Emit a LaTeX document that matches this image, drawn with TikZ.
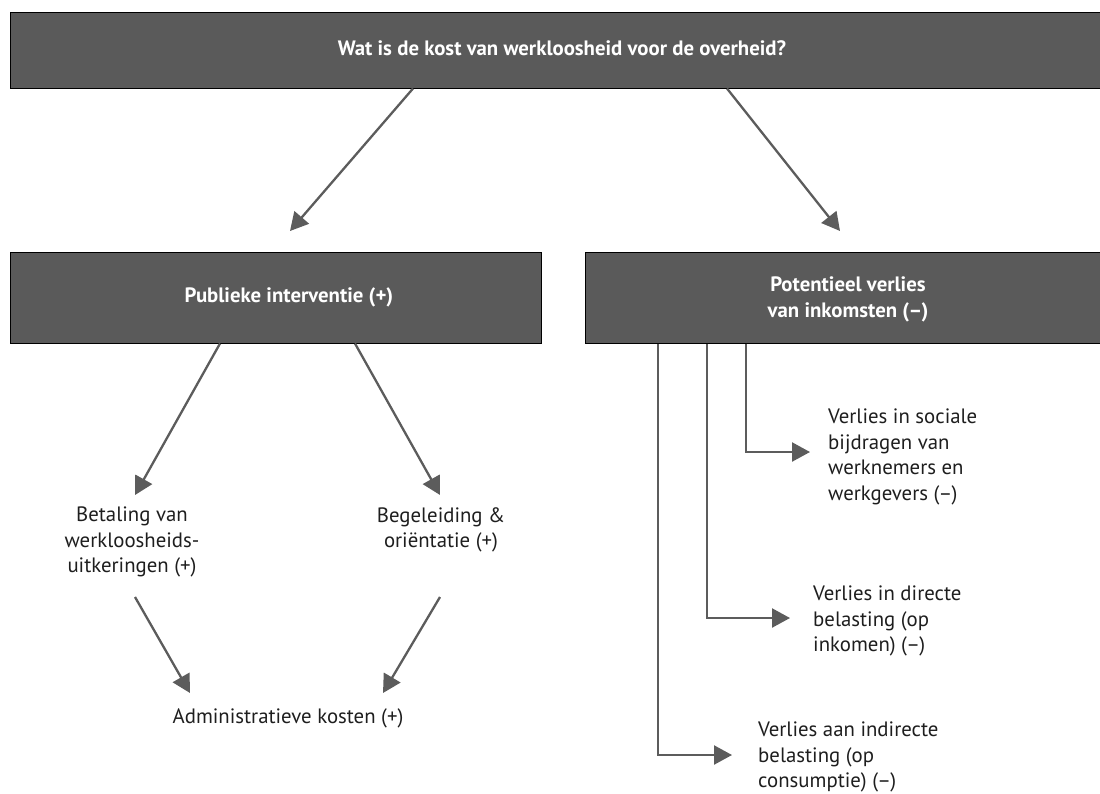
\documentclass[tikz,border=0pt]{standalone}
\usepackage{fontspec}
\setmainfont{PT Sans}
\usepackage{xcolor}
\usepackage{tikz}
\usetikzlibrary{arrows.meta,positioning,calc}
\definecolor{boxgray}{HTML}{5A5A5A}
\definecolor{arrgray}{HTML}{5C5C5C}
\definecolor{txtgray}{HTML}{1E1E1E}
\tikzset{
  hbox/.style={draw=black, line width=1pt, fill=boxgray, inner sep=0pt},
  htext/.style={text=white, font=\fontsize{20.8}{25.5}\selectfont\bfseries, align=center, inner sep=0pt},
  item/.style={text=txtgray, font=\fontsize{20.8}{25.5}\selectfont, align=center, inner sep=0pt},
  itemleft/.style={item, align=left, anchor=west},
  arrow/.style={-{Triangle[length=18pt, width=19pt]}, line width=2.3pt, draw=arrgray},
  elbow/.style={arrow, rounded corners=0pt}
}

\begin{document}
\begin{tikzpicture}[x=1pt, y=-1pt]
    \useasboundingbox (0,0) rectangle (1100,793);

    % boxes
    \node[hbox, minimum width=1090pt, minimum height=76pt] (qbox) at (555,50) {};
    \node[hbox, minimum width=531pt, minimum height=91pt] (pibox) at (275.5,297.5) {};
    \node[hbox, minimum width=515pt, minimum height=91pt] (vibox) at (842.5,297.5) {};

    \node[htext] (q) at (562,48) {Wat is de kost van werkloosheid voor de overheid?};
    \node[htext] (pi) at (289,297) {Publieke interventie (+)};
    \node[htext] (vi) at (848,299.5) {Potentieel verlies\\van inkomsten (--)};

    % items
    \node[item] (bet) at (132,542) {Betaling van\\werkloosheids-\\uitkeringen (+)};
    \node[item] (beg) at (441,530) {Begeleiding \&\\oriëntatie (+)};
    \node[item] (adm) at (288,718) {Administratieve kosten (+)};

    \node[itemleft] (soc) at (828,457) {Verlies in sociale\\bijdragen van\\werknemers en\\werkgevers (--)};
    \node[itemleft] (dir) at (813,621) {Verlies in directe\\belasting (op\\inkomen) (--)};
    \node[itemleft] (ind) at (758,757) {Verlies aan indirecte\\belasting (op\\consumptie) (--)};

    % connector ends
    \coordinate (q1) at (qbox.south -| 413,0);
    \coordinate (q2) at (qbox.south -| 727,0);
    \coordinate (pitop) at (290,231);
    \coordinate (vitop) at (840,231);
    \coordinate (pi1) at (pibox.south -| 220,0);
    \coordinate (pi2) at (pibox.south -| 355,0);
    \coordinate (bettop) at (135,495);
    \coordinate (begtop) at (440,495);
    \coordinate (betbot) at (135,597);
    \coordinate (begbot) at (440,597);
    \coordinate (admL) at (190,693);
    \coordinate (admR) at (383,693);
    \coordinate (vi1) at (vibox.south -| 658,0);
    \coordinate (vi2) at (vibox.south -| 707,0);
    \coordinate (vi3) at (vibox.south -| 746,0);
    \coordinate (indin) at (732,755);
    \coordinate (dirin) at (790,618);
    \coordinate (socin) at (810,452);

    \draw[arrow] (q1) -- (pitop);
    \draw[arrow] (q2) -- (vitop);

    \draw[arrow] (pi1) -- (bettop);
    \draw[arrow] (pi2) -- (begtop);
    \draw[arrow] (betbot) -- (admL);
    \draw[arrow] (begbot) -- (admR);

    \draw[elbow] (vi3) |- (socin);
    \draw[elbow] (vi2) |- (dirin);
    \draw[elbow] (vi1) |- (indin);
  \end{tikzpicture}
\end{document}
